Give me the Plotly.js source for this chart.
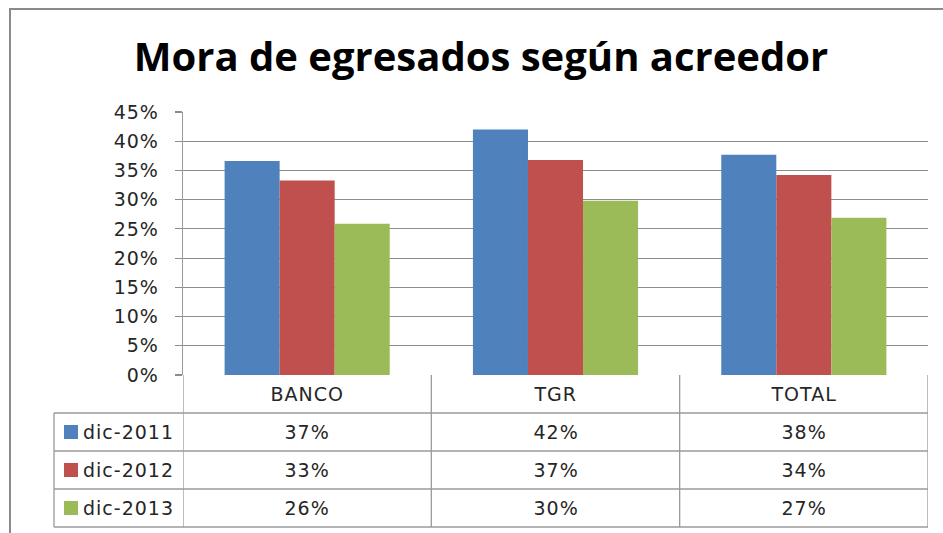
<!DOCTYPE html>
<html><head><meta charset="utf-8">
<script src="https://cdn.plot.ly/plotly-3.0.1.min.js"></script>
<style>html,body{margin:0;padding:0;background:#fff;}#chart{width:943px;height:533px;}
#chart .annotation-text, #chart .ytick text { letter-spacing: 1px; }
</style>
</head><body><div id="chart"></div>
<script>
var titleText = 'Mora de egresados según acreedor';
var categories = ['BANCO', 'TGR', 'TOTAL'];
var seriesNames = ['dic-2011', 'dic-2012', 'dic-2013'];
var dic2011 = [0.366, 0.420, 0.377];
var dic2012 = [0.333, 0.368, 0.342];
var dic2013 = [0.259, 0.298, 0.269];
var tableLabels2011 = ['37%', '42%', '38%'];
var tableLabels2012 = ['33%', '37%', '34%'];
var tableLabels2013 = ['26%', '30%', '27%'];
var seriesColors = ['#4F81BD', '#C0504D', '#9BBB59'];

var W = 943, H = 533;
var mL = 183, mR = 15, mT = 112, mB = 158;
var pw = W - mL - mR, ph = H - mT - mB;
function px(x) { return (x - mL) / pw; }
function py(y) { return (H - mB - y) / ph; }

var FONT = 'DejaVu Sans';
var FS = 19;
var textColor = '#262626';
var lineColor = '#9a9a9a';

var seriesValues = [dic2011, dic2012, dic2013];
var tableLabels = [tableLabels2011, tableLabels2012, tableLabels2013];

var traces = seriesValues.map(function (vals, i) {
  return {
    type: 'bar', x: categories, y: vals, name: seriesNames[i],
    marker: { color: seriesColors[i], line: { width: 0 } },
    hoverinfo: 'none'
  };
});

var shapes = [];
var annotations = [];
shapes.push({ type: 'rect', xref: 'paper', yref: 'paper', x0: px(10), x1: px(960), y0: py(545), y1: py(9),
  line: { color: '#8a8a8a', width: 2 }, fillcolor: 'rgba(0,0,0,0)', layer: 'below' });

var rowTops = [375, 413, 451, 489, 527];
var tableLeft = 54, tableRight = 928;
for (var r = 1; r < rowTops.length; r++) {
  shapes.push({ type: 'line', xref: 'paper', yref: 'paper', x0: px(tableLeft), x1: px(tableRight),
    y0: py(rowTops[r]), y1: py(rowTops[r]), line: { color: lineColor, width: 1.3 } });
}
shapes.push({ type: 'line', xref: 'paper', yref: 'paper', x0: px(tableLeft), x1: px(tableLeft),
  y0: py(rowTops[1]), y1: py(rowTops[4]), line: { color: lineColor, width: 1.3 } });
for (var c = 0; c <= categories.length; c++) {
  shapes.push({ type: 'line', xref: 'x', yref: 'paper', x0: c - 0.5, x1: c - 0.5,
    y0: py(rowTops[0]), y1: py(rowTops[4]), line: { color: lineColor, width: 1.3 } });
}
categories.forEach(function (cat, i) {
  annotations.push({ xref: 'x', yref: 'paper', x: i, y: py((rowTops[0] + rowTops[1]) / 2),
    text: cat, showarrow: false, xanchor: 'center', yanchor: 'middle',
    font: { family: FONT, size: FS, color: textColor } });
});
seriesNames.forEach(function (name, s) {
  var yc = (rowTops[s + 1] + rowTops[s + 2]) / 2;
  shapes.push({ type: 'rect', xref: 'paper', yref: 'paper', x0: px(64), x1: px(78),
    y0: py(yc + 7), y1: py(yc - 7), fillcolor: seriesColors[s], line: { width: 0 } });
  annotations.push({ xref: 'paper', yref: 'paper', x: px(85), y: py(yc), text: name,
    showarrow: false, xanchor: 'left', yanchor: 'middle',
    font: { family: FONT, size: FS, color: textColor } });
  tableLabels[s].forEach(function (lab, i) {
    annotations.push({ xref: 'x', yref: 'paper', x: i, y: py(yc), text: lab,
      showarrow: false, xanchor: 'center', yanchor: 'middle',
      font: { family: FONT, size: FS, color: textColor } });
  });
});

var layout = {
  width: W, height: H,
  margin: { l: mL, r: mR, t: mT, b: mB, pad: 0 },
  paper_bgcolor: '#ffffff', plot_bgcolor: '#ffffff',
  title: { text: '<b>' + titleText + '</b>', xref: 'container', x: 481 / W, yref: 'container', y: 1 - 57 / H,
    yanchor: 'middle', xanchor: 'center', font: { family: 'Open Sans', size: 40, color: '#000' } },
  showlegend: false,
  barmode: 'group', bargap: 0.335, bargroupgap: 0,
  xaxis: { type: 'category', range: [-0.5, 2.5], showticklabels: false, showgrid: false,
    zeroline: false, showline: false, ticks: '', fixedrange: true },
  yaxis: { range: [0, 0.45], dtick: 0.05, tickformat: '.0%', showgrid: true, gridcolor: '#8c8c8c', gridwidth: 1.2,
    zeroline: false, showline: true, linecolor: lineColor, linewidth: 1.3, ticks: 'outside', ticklen: 7,
    tickcolor: '#8c8c8c', tickwidth: 1.2, ticklabelstandoff: 12,
    tickfont: { family: FONT, size: FS, color: textColor }, fixedrange: true },
  shapes: shapes, annotations: annotations
};

Plotly.newPlot('chart', traces, layout, { displayModeBar: false, staticPlot: true });
</script></body></html>
